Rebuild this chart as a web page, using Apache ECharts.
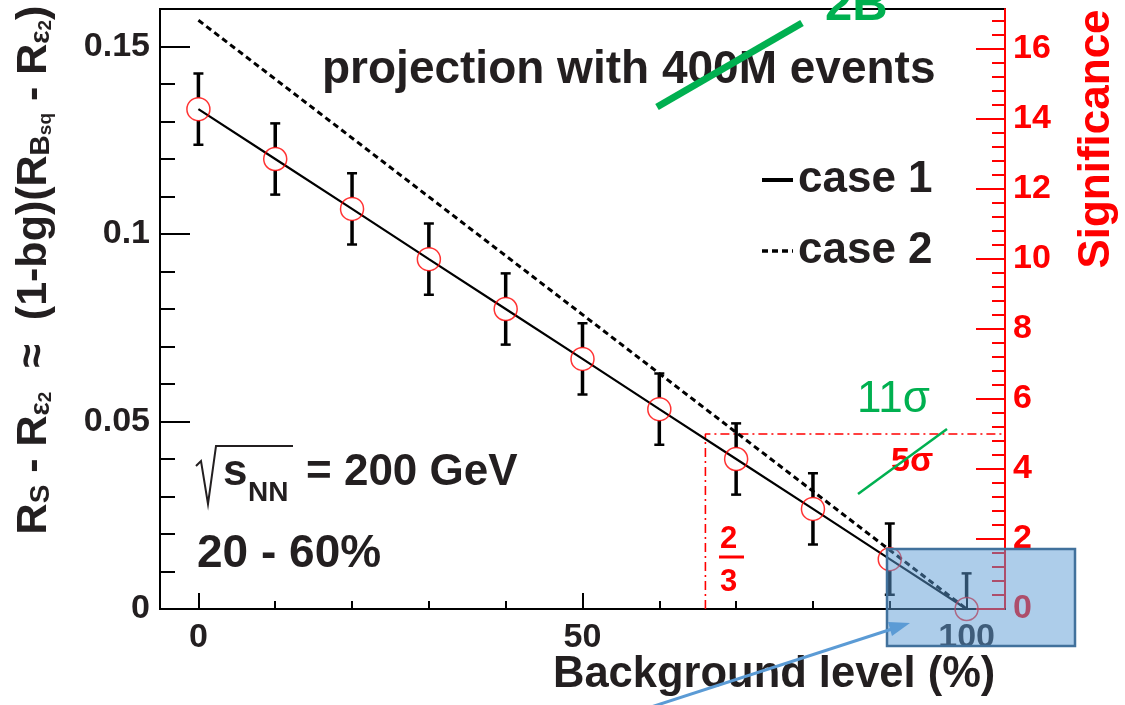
<!DOCTYPE html>
<html>
<head>
<meta charset="utf-8">
<script src="https://cdn.jsdelivr.net/npm/echarts@6/dist/echarts.min.js"></script>
<style>html,body{margin:0;padding:0;background:#fff;}#chart{width:1125px;height:705px;}</style>
</head>
<body>
<div id="chart"></div>
<script>
// ---- data ----
const bgLevels = [0, 10, 20, 30, 40, 50, 60, 70, 80, 90, 100];
const case1Values = [0.1333, 0.1200, 0.1067, 0.0933, 0.0800, 0.0667, 0.0533, 0.0400, 0.0267, 0.0133, 0.0000];
const case1Errors = [0.0095, 0.0095, 0.0095, 0.0095, 0.0095, 0.0095, 0.0095, 0.0095, 0.0095, 0.0095, 0.0095];
const case2Levels = [0, 100];
const case2Values = [0.157, 0.0];
const thresholdLevels = [66, 66, 105];
const thresholdSignif = [0, 5, 5];
const xTickLabels = [0, 50, 100];
const xMinorTicks = [10, 20, 30, 40, 60, 70, 80, 90];
const yTickLabels = [0, 0.05, 0.1, 0.15];
const yMinorTicks = [0.01, 0.02, 0.03, 0.04, 0.06, 0.07, 0.08, 0.09, 0.11, 0.12, 0.13, 0.14];
const sigTickLabels = [0, 2, 4, 6, 8, 10, 12, 14, 16];
const sigMinorTicks = [];
for (let v = 0.4; v < 17.1; v += 0.4) { const r = Math.round(v * 10) / 10; if (Math.abs(r / 2 - Math.round(r / 2)) > 1e-6) sigMinorTicks.push(r); }

const FONT = 'Liberation Sans, Arial, Helvetica, sans-serif';
const DARK = '#231f20';
const RED = '#ff0000';
const GREEN = '#00b050';

const chart = echarts.init(document.getElementById('chart'));

function T(text, left, baseline, size, color, weight, extra) {
  return Object.assign({
    type: 'text', x: left, y: baseline - 0.34 * size, z: 50,
    style: { text: text, fill: color, fontSize: size, fontWeight: weight || 'bold', fontFamily: FONT, align: 'left', verticalAlign: 'middle' }
  }, extra || {});
}

const errData = bgLevels.map((x, i) => [x, case1Values[i], case1Errors[i]]);

function minorAxis(pos, min, max, len, ticks, color) {
  return { type: 'value', min: min, max: max, position: pos,
    axisLine: { show: false, onZero: false },
    axisTick: { show: true, inside: true, length: len, customValues: ticks, lineStyle: { color: color, width: 2 } },
    axisLabel: { show: false }, splitLine: { show: false } };
}

const option = {
  animation: false,
  backgroundColor: '#fff',
  grid: { left: 160, right: 120, top: 9, bottom: 96, show: true, borderColor: '#000', borderWidth: 2, backgroundColor: 'transparent' },
  legend: {
    left: 755, top: 153, orient: 'vertical', itemWidth: 31, itemHeight: 4, itemGap: 27, selectedMode: false,
    itemStyle: { color: 'rgba(0,0,0,0)', borderWidth: 0, opacity: 0 },
    textStyle: { fontSize: 44, fontWeight: 'bold', color: DARK, fontFamily: FONT, lineHeight: 44 },
    data: [
      { name: 'case 1', lineStyle: { width: 4 } },
      { name: 'case 2', lineStyle: { width: 3.5 } }
    ]
  },
  xAxis: [
    { type: 'value', min: -5, max: 105, position: 'bottom',
      axisLine: { show: true, onZero: false, lineStyle: { color: '#000', width: 2 } },
      axisTick: { show: true, inside: true, length: 16, customValues: xTickLabels, lineStyle: { color: '#000', width: 2 } },
      axisLabel: { show: true, customValues: xTickLabels, margin: 12, fontSize: 34, fontWeight: 'bold', color: DARK, fontFamily: FONT },
      splitLine: { show: false } },
    minorAxis('bottom', -5, 105, 8, xMinorTicks, '#000')
  ],
  yAxis: [
    { type: 'value', min: 0, max: 0.16, position: 'left',
      axisLine: { show: true, onZero: false, lineStyle: { color: '#000', width: 2 } },
      axisTick: { show: true, inside: true, length: 30, customValues: yTickLabels, lineStyle: { color: '#000', width: 2 } },
      axisLabel: { show: true, customValues: yTickLabels, margin: 10, fontSize: 34, fontWeight: 'bold', color: DARK, fontFamily: FONT,
        formatter: v => String(Math.round(v * 100) / 100) },
      splitLine: { show: false } },
    minorAxis('left', 0, 0.16, 15, yMinorTicks, '#000'),
    { type: 'value', min: 0, max: 600 / 35, position: 'right',
      axisLine: { show: true, onZero: false, lineStyle: { color: RED, width: 2 } },
      axisTick: { show: true, inside: true, length: 29, customValues: sigTickLabels, lineStyle: { color: RED, width: 2 } },
      axisLabel: { show: true, customValues: sigTickLabels, margin: 8, fontSize: 34, fontWeight: 'bold', color: RED, fontFamily: FONT },
      splitLine: { show: false } },
    minorAxis('right', 0, 600 / 35, 13, sigMinorTicks, RED)
  ],
  series: [
    { name: 'case 1', type: 'line', xAxisIndex: 0, yAxisIndex: 0, symbol: 'none', z: 3,
      lineStyle: { color: '#000', width: 2.2 }, itemStyle: { color: '#000' },
      data: bgLevels.map((x, i) => [x, case1Values[i]]) },
    { name: 'case 2', type: 'line', xAxisIndex: 0, yAxisIndex: 0, symbol: 'none', z: 3,
      lineStyle: { color: '#000', width: 3, type: [6, 4] }, itemStyle: { color: '#000' },
      data: case2Levels.map((x, i) => [x, case2Values[i]]) },
    { name: 'threshold', type: 'line', xAxisIndex: 0, yAxisIndex: 2, symbol: 'none', z: 2,
      lineStyle: { color: RED, width: 1.6, type: [9, 4, 2, 4] },
      data: thresholdLevels.map((x, i) => [x, thresholdSignif[i]]) },
    { name: 'errors', type: 'custom', xAxisIndex: 0, yAxisIndex: 0, z: 4,
      renderItem: function (params, api) {
        const x = api.value(0), y = api.value(1), e = api.value(2);
        const p = api.coord([x, y]);
        const t = api.coord([x, y + e]);
        const lowV = y - e;
        const b = api.coord([x, Math.max(0, lowV)]);
        const r = 11.5, cap = 5;
        const st = { stroke: '#000', lineWidth: 3.5 };
        const ch = [
          { type: 'line', shape: { x1: p[0], y1: p[1] - r, x2: p[0], y2: t[1] }, style: st },
          { type: 'line', shape: { x1: p[0] - cap, y1: t[1], x2: p[0] + cap, y2: t[1] }, style: { stroke: '#000', lineWidth: 2.5 } }
        ];
        if (b[1] > p[1] + r) {
          ch.push({ type: 'line', shape: { x1: p[0], y1: p[1] + r, x2: p[0], y2: b[1] }, style: st });
          if (lowV >= 0) ch.push({ type: 'line', shape: { x1: p[0] - cap, y1: b[1], x2: p[0] + cap, y2: b[1] }, style: { stroke: '#000', lineWidth: 2.5 } });
        }
        return { type: 'group', children: ch };
      },
      data: errData },
    { name: 'points', type: 'scatter', xAxisIndex: 0, yAxisIndex: 0, z: 5, symbol: 'circle', symbolSize: 23,
      itemStyle: { color: 'rgba(0,0,0,0)', borderColor: RED, borderWidth: 1.5 },
      data: bgLevels.map((x, i) => [x, case1Values[i]]) }
  ],
  graphic: [
    // left axis title
    { type: 'text', x: 34, y: 270, rotation: Math.PI / 2, z: 50,
      style: { text: '{b|R}{s|S}{b| - R}{s|ε}{ss|2}{b|  ≈  (1-bg)(R}{s|B}{ss|sq}{b| - R}{s|ε}{ss|2}{b|)}',
        align: 'center', verticalAlign: 'middle', fill: DARK,
        rich: {
          b: { fontSize: 43, fontWeight: 'bold', fontFamily: FONT, fill: DARK },
          s: { fontSize: 28, fontWeight: 'bold', fontFamily: FONT, fill: DARK, verticalAlign: 'bottom' },
          ss: { fontSize: 19, fontWeight: 'bold', fontFamily: FONT, fill: DARK, verticalAlign: 'bottom' }
        } } },
    // right axis title
    { type: 'text', x: 1097, y: 139, rotation: Math.PI / 2, z: 50,
      style: { text: 'Significance', fill: RED, fontSize: 44, fontWeight: 'bold', fontFamily: FONT, align: 'center', verticalAlign: 'middle' } },
    // x title
    T('Background level (%)', 553, 690, 43.5, DARK),
    // projection text
    T('projection with 400M events', 322, 86, 46, DARK),
    { type: 'line', z: 60, shape: { x1: 657, y1: 107, x2: 802, y2: 23 }, style: { stroke: GREEN, lineWidth: 7 } },
    T('2B', 825, 23, 49, GREEN),
    // sqrt sNN
    { type: 'polyline', z: 50, shape: { points: [[196, 466], [201, 461], [208, 504], [216, 446], [293, 446]] }, style: { stroke: DARK, lineWidth: 2, fill: null } },
    T('s', 223, 488, 44, DARK),
    T('NN', 248, 503, 28, DARK),
    T('= 200 GeV', 306, 488, 44, DARK),
    T('20 - 60%', 197, 570, 46, DARK),
    // sigma annotations
    T('11σ', 857, 415, 44, GREEN, 'normal'),
    T('5σ', 891, 473, 34, RED),
    { type: 'line', z: 60, shape: { x1: 858, y1: 494, x2: 947, y2: 429 }, style: { stroke: GREEN, lineWidth: 2.5 } },
    // 2/3 fraction
    T('2', 720, 550, 31, RED),
    { type: 'line', z: 50, shape: { x1: 719, y1: 557, x2: 744, y2: 557 }, style: { stroke: RED, lineWidth: 3 } },
    T('3', 720, 593, 31, RED),
    // blue box
    { type: 'rect', z: 100, shape: { x: 887, y: 549, width: 188, height: 97 },
      style: { fill: 'rgba(91,155,213,0.5)', stroke: '#41719c', lineWidth: 2.5 } },
    // blue arrow
    { type: 'line', z: 100, shape: { x1: 648, y1: 708, x2: 892, y2: 629 }, style: { stroke: '#5b9bd5', lineWidth: 3 } },
    { type: 'polygon', z: 100, shape: { points: [[910, 623], [892, 636], [888, 622]] }, style: { fill: '#5b9bd5' } }
  ]
};
chart.setOption(option);
</script>
</body>
</html>
